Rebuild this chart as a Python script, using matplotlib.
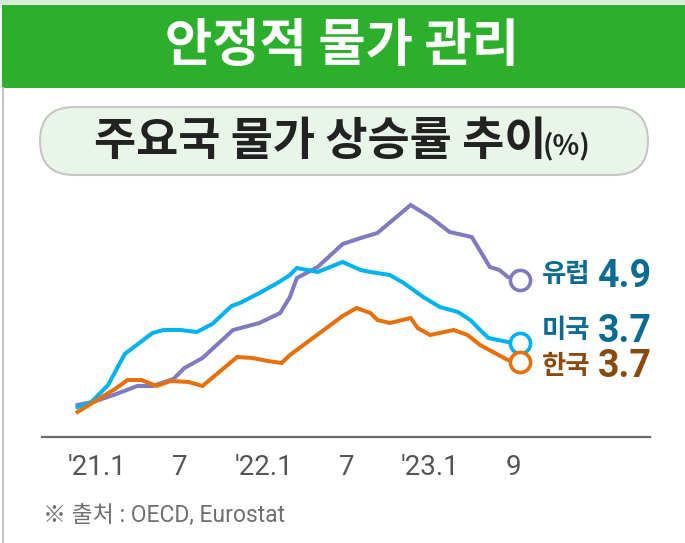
import matplotlib.pyplot as plt
from matplotlib.patches import Rectangle, FancyBboxPatch

plt.rcParams['font.family'] = ['Noto Sans CJK KR', 'DejaVu Sans']

# line vertices: month offset from '21.1, height on chart
eu_month = [-1.4, -0.3, 1.2, 2.9, 4.0, 5.5, 6.3, 7.6, 9.8, 11.7, 13.2, 13.9, 14.4,
            15.9, 17.7, 19.0, 20.2, 22.6, 24.0, 25.4, 27.0, 28.0, 28.3, 29.0, 29.6, 30.5]
eu_val = [1.60, 1.75, 2.10, 2.55, 2.55, 2.90, 3.45, 3.95, 5.35, 5.70, 6.20, 7.00, 7.95,
          8.50, 9.65, 9.95, 10.20, 11.60, 11.00, 10.25, 10.00, 8.85, 8.50, 8.35, 8.00, 7.85]

us_month = [-1.4, -0.4, 0.8, 2.0, 4.0, 4.8, 6.0, 7.2, 8.3, 9.7, 10.3, 11.7, 13.0, 13.9,
            14.4, 15.9, 17.7, 19.0, 19.7, 21.1, 22.1, 23.5, 24.7, 26.0, 26.9, 27.6, 28.2,
            29.6, 30.5]
us_val = [1.50, 1.75, 2.60, 4.15, 5.20, 5.35, 5.35, 5.25, 5.65, 6.55, 6.70, 7.20, 7.70,
          8.10, 8.45, 8.25, 8.75, 8.35, 8.25, 8.10, 7.70, 7.00, 6.50, 6.25, 5.85, 5.35,
          4.95, 4.75, 4.70]

kr_month = [-1.4, 1.3, 2.2, 3.2, 4.3, 5.3, 6.6, 7.6, 10.1, 11.2, 12.3, 13.3, 13.9, 17.7,
            18.7, 19.7, 20.2, 21.1, 22.6, 23.1, 24.0, 25.7, 26.7, 27.6, 29.6, 30.5]
kr_val = [1.25, 2.40, 2.85, 2.85, 2.55, 2.80, 2.75, 2.55, 4.00, 3.95, 3.80, 3.70, 4.10,
          6.05, 6.45, 6.20, 5.85, 5.70, 5.95, 5.45, 5.10, 5.35, 5.10, 4.60, 3.85, 3.75]

tick_month = [0, 6, 12, 18, 24, 30]
tick_label = ["'21.1", '7', "'22.1", '7', "'23.1", '9']

names = ['유럽', '미국', '한국']
last_rate = ['4.9', '3.7', '3.7']

W, H = 685, 543
fig = plt.figure(figsize=(W / 100, H / 100), dpi=100)

# background layer in pixel units
bg = fig.add_axes([0, 0, 1, 1])
bg.set_xlim(0, W)
bg.set_ylim(H, 0)
bg.axis('off')
bg.add_patch(Rectangle((0, 0), W, 5, color='#d6ecd6', lw=0))
bg.add_patch(Rectangle((2, 5), W, 83, color='#2cb02c', lw=0))
bg.plot([3, 3], [88, H], color='#c4c4c4', lw=1.5)
bg.text(W / 2, 46, '안정적 물가 관리', color='white', fontsize=37, fontweight='bold',
        ha='center', va='center')
bg.add_patch(FancyBboxPatch((40, 107), 608, 68, boxstyle='round,pad=0,rounding_size=34',
                            fc='#e8f5e8', ec='#c6c6c6', lw=1.5))
bg.text(94, 142, '주요국 물가 상승률 추이', color='#222222', fontsize=33, fontweight='bold',
        ha='left', va='center')
bg.text(543, 146, '(%)', color='#222222', fontsize=20, fontweight='bold',
        ha='left', va='center')
bg.text(43, 515, '※ 출처 : OECD, Eurostat', color='#707070', fontsize=16.5,
        ha='left', va='center', family=['Roboto', 'Noto Sans CJK KR'])

# chart area
x0, x1, ytop, ybase = 42, 650, 190, 437
ax = fig.add_axes([x0 / W, (H - ybase) / H, (x1 - x0) / W, (ybase - ytop) / H])
ax.set_xlim((x0 - 97) / 13.88, (x1 - 97) / 13.88)
ax.set_ylim(0, (ybase - ytop) / 20)
ax.patch.set_alpha(0)

lw = 2.9
ax.plot(eu_month, eu_val, color='#7f7bc0', lw=lw, solid_joinstyle='miter', zorder=2)
ax.plot(us_month, us_val, color='#00b2ee', lw=lw, solid_joinstyle='miter', zorder=3)
ax.plot(kr_month, kr_val, color='#e8700c', lw=lw, solid_joinstyle='miter', zorder=4)
ax.plot(eu_month[-1], eu_val[-1], 'o', ms=14.5, mfc='white', mec='#7f7bc0', mew=2.6, zorder=5)
ax.plot(us_month[-1], us_val[-1], 'o', ms=14.5, mfc='white', mec='#00b2ee', mew=2.6, zorder=6)
ax.plot(kr_month[-1], kr_val[-1], 'o', ms=14.5, mfc='white', mec='#e8700c', mew=2.6, zorder=7)

for s in ['top', 'right', 'left']:
    ax.spines[s].set_visible(False)
ax.spines['bottom'].set_color('#6a6a6a')
ax.spines['bottom'].set_linewidth(1.6)
ax.set_yticks([])
ax.set_xticks(tick_month)
ax.set_xticklabels(tick_label, fontsize=20, color='#555555', family=['Roboto', 'DejaVu Sans'])
ax.tick_params(axis='x', length=0, pad=12)

# end labels
lab_colors = ['#0b6b93', '#0b6b93', '#8a4a0e']
name_y = [275, 330, 366]
num_y = [287, 342, 377]
for n, r, c, ny, vy in zip(names, last_rate, lab_colors, name_y, num_y):
    bg.text(542, ny, n, color=c, fontsize=19, fontweight='bold', ha='left', va='center')
    bg.text(598, vy, r, color=c, fontsize=27, fontweight='bold', ha='left', va='baseline',
            family=['Roboto', 'DejaVu Sans'])

fig.savefig('out.png', dpi=100)
